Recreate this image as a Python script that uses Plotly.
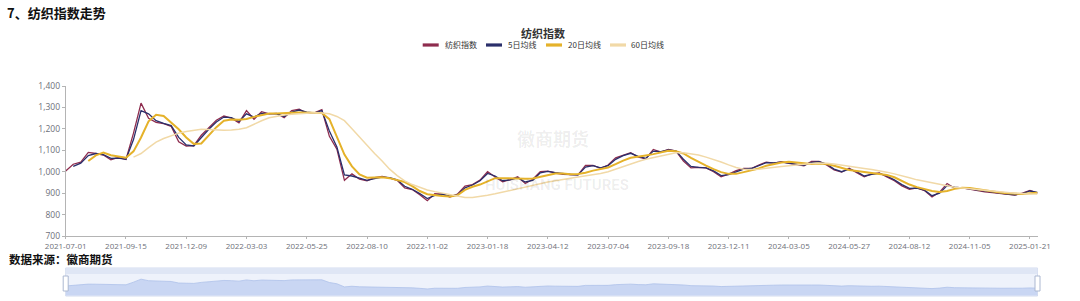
import plotly.graph_objects as go

# ---------------- data ----------------
dates = [
    "2021-07-01", "2021-07-10", "2021-07-20", "2021-07-29", "2021-08-08", "2021-08-17", "2021-08-27", "2021-09-05",
    "2021-09-15", "2021-09-26", "2021-10-06", "2021-10-17", "2021-10-27", "2021-11-07", "2021-11-17", "2021-11-28",
    "2021-12-09", "2021-12-20", "2021-12-30", "2022-01-10", "2022-01-20", "2022-01-31", "2022-02-10", "2022-02-21",
    "2022-03-03", "2022-03-13", "2022-03-24", "2022-04-03", "2022-04-14", "2022-04-24", "2022-05-05", "2022-05-15",
    "2022-05-25", "2022-06-04", "2022-06-13", "2022-06-23", "2022-07-03", "2022-07-12", "2022-07-22", "2022-07-31",
    "2022-08-10", "2022-08-21", "2022-08-31", "2022-09-10", "2022-09-21", "2022-10-01", "2022-10-12", "2022-10-22",
    "2022-11-02", "2022-11-12", "2022-11-21", "2022-12-01", "2022-12-11", "2022-12-20", "2022-12-30", "2023-01-08",
    "2023-01-18", "2023-01-29", "2023-02-08", "2023-02-18", "2023-03-01", "2023-03-12", "2023-03-22", "2023-04-01",
    "2023-04-12", "2023-04-22", "2023-05-03", "2023-05-13", "2023-05-24", "2023-06-03", "2023-06-14", "2023-06-24",
    "2023-07-04", "2023-07-13", "2023-07-23", "2023-08-01", "2023-08-11", "2023-08-20", "2023-08-30", "2023-09-08",
    "2023-09-18", "2023-09-29", "2023-10-09", "2023-10-19", "2023-10-30", "2023-11-09", "2023-11-20", "2023-11-30",
    "2023-12-11", "2023-12-22", "2024-01-01", "2024-01-12", "2024-01-22", "2024-02-02", "2024-02-12", "2024-02-23",
    "2024-03-05", "2024-03-15", "2024-03-26", "2024-04-05", "2024-04-16", "2024-04-26", "2024-05-07", "2024-05-17",
    "2024-05-27", "2024-06-06", "2024-06-15", "2024-06-25", "2024-07-05", "2024-07-14", "2024-07-24", "2024-08-02",
    "2024-08-12", "2024-08-23", "2024-09-02", "2024-09-13", "2024-09-23", "2024-10-04", "2024-10-14", "2024-10-25",
    "2024-11-05", "2024-11-15", "2024-11-24", "2024-12-04", "2024-12-14", "2024-12-23", "2025-01-02", "2025-01-11",
    "2025-01-21", "2025-01-27",
]

tick_labels = [
    "2021-07-01", "2021-09-15", "2021-12-09", "2022-03-03", "2022-05-25", "2022-08-10",
    "2022-11-02", "2023-01-18", "2023-04-12", "2023-07-04", "2023-09-18", "2023-12-11",
    "2024-03-05", "2024-05-27", "2024-08-12", "2024-11-05", "2025-01-21",
]

textile_index = [
    1003, 1035, 1045, 1090, 1085, 1078, 1056, 1067, 1057, 1180,
    1320, 1249, 1230, 1224, 1212, 1140, 1120, 1122, 1170, 1205,
    1240, 1260, 1250, 1228, 1285, 1245, 1280, 1270, 1272, 1252,
    1285, 1292, 1272, 1275, 1290, 1165, 1105, 960, 990, 965,
    958, 972, 978, 970, 960, 924, 917, 893, 865, 898,
    895, 882, 895, 933, 940, 961, 1000, 975, 953, 963,
    976, 945, 965, 1000, 1003, 994, 988, 987, 985, 1030,
    1029, 1016, 1031, 1065, 1078, 1089, 1068, 1060, 1104, 1092,
    1104, 1096, 1050, 1018, 1020, 1018, 1000, 976, 989, 1005,
    1015, 1015, 1031, 1045, 1040, 1047, 1039, 1034, 1028, 1048,
    1048, 1032, 1008, 998, 1016, 996, 976, 990, 994, 976,
    958, 934, 918, 925, 912, 882, 905, 945, 923, 925,
    918, 910, 906, 903, 898, 893, 891, 900, 913, 900,
]

ma5 = [
    None, 1025, 1040, 1075, 1085, 1080, 1062, 1063, 1058, 1150,
    1285, 1270, 1238, 1226, 1215, 1160, 1125, 1120, 1160, 1198,
    1232, 1255, 1252, 1235, 1270, 1255, 1272, 1272, 1270, 1258,
    1278, 1288, 1278, 1274, 1285, 1190, 1115, 985, 980, 970,
    960, 968, 975, 972, 962, 932, 918, 898, 875, 890,
    895, 886, 892, 925, 938, 958, 992, 980, 958, 962,
    972, 952, 960, 995, 1002, 996, 990, 987, 985, 1022,
    1028, 1018, 1028, 1058, 1075, 1086, 1072, 1062, 1096, 1094,
    1102, 1097, 1058, 1025, 1020, 1018, 1004, 982, 986, 1000,
    1012, 1015, 1028, 1042, 1041, 1045, 1040, 1035, 1030, 1044,
    1047, 1036, 1012, 1000, 1012, 1000, 980, 988, 992, 980,
    962, 940, 922, 923, 914, 888, 900, 935, 928, 925,
    920, 912, 907, 904, 899, 895, 892, 898, 910, 903,
]

ma20 = [
    None, None, None, 1050, 1076, 1089, 1077, 1071, 1065, 1095,
    1160, 1235, 1266, 1260, 1230, 1198, 1160, 1130, 1132, 1170,
    1208, 1238, 1244, 1242, 1246, 1256, 1265, 1272, 1272, 1272,
    1275, 1276, 1276, 1276, 1274, 1245, 1165, 1080, 1025, 987,
    972, 974, 974, 970, 962, 952, 933, 910, 895, 890,
    887, 884, 890, 915, 930, 940, 955, 970, 970, 968,
    968, 967, 968, 975, 985, 992, 992, 988, 989, 995,
    1005, 1012, 1020, 1035, 1052, 1065, 1072, 1076, 1082, 1090,
    1098, 1095, 1085, 1065, 1045, 1028, 1012, 998, 990, 990,
    998, 1005, 1015, 1028, 1036, 1043, 1046, 1043, 1040, 1036,
    1038, 1036, 1028, 1018, 1008, 1003, 998, 992, 988, 985,
    974, 958, 940, 928, 918, 910, 905, 910, 920, 925,
    924, 918, 914, 908, 903, 899, 896, 896, 900, 902,
]

ma60 = [
    None, None, None, None, None, None, None, None, None, 1068,
    1085, 1112, 1138, 1155, 1168, 1180, 1188, 1194, 1198, 1197,
    1194, 1194, 1195, 1198, 1205, 1222, 1238, 1252, 1260, 1265,
    1268, 1271, 1273, 1275, 1274, 1270, 1258, 1238, 1200, 1160,
    1120, 1085, 1050, 1012, 982, 957, 940, 928, 915, 907,
    900, 893, 884, 880, 880, 884, 890, 897, 905, 912,
    920, 930, 937, 945, 952, 958, 965, 970, 975, 980,
    985, 992, 1000, 1012, 1025, 1038, 1048, 1058, 1066, 1074,
    1082, 1088, 1088, 1082, 1078, 1068, 1058, 1045, 1032, 1020,
    1012, 1010, 1012, 1015, 1020, 1024, 1028, 1032, 1035, 1038,
    1040, 1040, 1036, 1030, 1025, 1020, 1015, 1010, 1005, 998,
    990, 982, 972, 962, 955, 948, 942, 935, 928, 924,
    920, 916, 914, 910, 906, 903, 900, 897, 896, 896,
]

series_names = ["纺织指数", "5日均线", "20日均线", "60日均线"]
y_ticks = [700, 800, 900, 1000, 1100, 1200, 1300, 1400]

# ---------------- styling ----------------
W, H = 1080, 301
C_IDX = "#8E2C4E"
C_MA5 = "#2A2F6B"
C_MA20 = "#E5B22A"
C_MA60 = "#F1D9A7"
AXIS_C = "#B4B4B4"
LABEL_C = "#6E7079"
FONT = "Open Sans, Noto Sans CJK SC, sans-serif"
CJK = "Noto Sans CJK SC, sans-serif"

def px(x):
    return x / W

def py(y):
    return (H - y) / H

X0, X1 = 65.7, 1037.5
n = len(dates)

fig = go.Figure()
series = [
    (textile_index, C_IDX, 1.3),
    (ma5, C_MA5, 1.3),
    (ma20, C_MA20, 2.0),
    (ma60, C_MA60, 1.5),
]
for (vals, col, w), name in zip(series, series_names):
    fig.add_trace(go.Scatter(
        x=dates, y=vals, name=name, mode="lines",
        line=dict(color=col, width=w),
        xaxis="x", yaxis="y", showlegend=False, hoverinfo="skip",
    ))

# data-zoom slider shadow
fig.add_trace(go.Scatter(
    x=dates, y=textile_index, mode="lines", fill="tozeroy",
    line=dict(color="#AFC1EA", width=0.8), fillcolor="#C9D6F3",
    xaxis="x2", yaxis="y2", showlegend=False, hoverinfo="skip",
))

shapes = []
annotations = []

# slider frame
SL_T, SL_B = 268, 296
shapes.append(dict(type="rect", xref="paper", yref="paper",
                   x0=px(X0), x1=px(X1), y0=py(SL_B), y1=py(SL_T),
                   fillcolor="#EEF2FB", line=dict(color="#D3DBEE", width=1), layer="below"))
shapes.append(dict(type="rect", xref="paper", yref="paper",
                   x0=px(X0), x1=px(X1), y0=py(SL_T + 6), y1=py(SL_T),
                   fillcolor="#DFE6F5", line=dict(width=0), layer="below"))
for hx in (X0, X1):
    shapes.append(dict(type="rect", xref="paper", yref="paper",
                       x0=px(hx - 2.5), x1=px(hx + 2.5), y0=py(291), y1=py(276),
                       fillcolor="#FFFFFF", line=dict(color="#ACB8D1", width=1), layer="above"))

# custom legend
legend_items = [
    (422.7, 443.0, C_IDX, series_names[0]),
    (486.0, 506.0, C_MA5, series_names[1]),
    (546.0, 566.0, C_MA20, series_names[2]),
    (610.0, 629.0, C_MA60, series_names[3]),
]
LEG_Y = 45
for x0, tx, col, name in legend_items:
    shapes.append(dict(type="line", xref="paper", yref="paper",
                       x0=px(x0), x1=px(x0 + 16), y0=py(LEG_Y), y1=py(LEG_Y),
                       line=dict(color=col, width=3.2)))
    annotations.append(dict(text=name, xref="paper", yref="paper", x=px(tx), y=py(LEG_Y),
                            xanchor="left", yanchor="middle", showarrow=False,
                            font=dict(family=CJK, size=8, color="#333333")))

# legend title
annotations.append(dict(text="<b>纺织指数</b>", xref="paper", yref="paper", x=px(543), y=py(33),
                        xanchor="center", yanchor="middle", showarrow=False,
                        font=dict(family=CJK, size=11, color="#333333")))
# page title and source
annotations.append(dict(text="<b>7、纺织指数走势</b>", xref="paper", yref="paper", x=px(5), y=py(12),
                        xanchor="left", yanchor="middle", showarrow=False,
                        font=dict(family=CJK, size=13, color="#111111")))
annotations.append(dict(text="<b>数据来源：徽商期货</b>", xref="paper", yref="paper", x=px(7), y=py(258.5),
                        xanchor="left", yanchor="middle", showarrow=False,
                        font=dict(family=CJK, size=11.5, color="#111111")))
# watermarks
annotations.append(dict(text="<b>徽商期货</b>", xref="paper", yref="paper", x=px(553), y=py(138),
                        xanchor="center", yanchor="middle", showarrow=False,
                        font=dict(family=CJK, size=18, color="rgba(0,0,0,0.07)")))
annotations.append(dict(text="<b>HUISHANG FUTURES</b>", xref="paper", yref="paper", x=px(557), y=py(185),
                        xanchor="center", yanchor="middle", showarrow=False,
                        font=dict(family="Roboto, sans-serif", size=15, color="rgba(0,0,0,0.07)")))

fig.update_layout(
    width=W, height=H,
    margin=dict(l=0, r=0, t=0, b=0, autoexpand=False),
    paper_bgcolor="white", plot_bgcolor="white",
    showlegend=False,
    shapes=shapes, annotations=annotations,
    xaxis=dict(
        type="category", categoryorder="array", categoryarray=dates,
        domain=[px(X0), px(X1)], range=[0, n - 1], anchor="y",
        showline=True, linecolor=AXIS_C, linewidth=1,
        ticks="outside", ticklen=2, tickcolor=AXIS_C,
        tickvals=tick_labels, ticktext=tick_labels,
        tickfont=dict(family=FONT, size=8, color=LABEL_C),
        showgrid=False, zeroline=False, fixedrange=True, automargin=False,
    ),
    yaxis=dict(
        domain=[py(236), py(86)], range=[700, 1400], anchor="x",
        showline=True, linecolor=AXIS_C, linewidth=1,
        ticks="outside", ticklen=3, tickcolor=AXIS_C,
        tickvals=y_ticks, tickformat=",",
        tickfont=dict(family=FONT, size=8.5, color=LABEL_C),
        showgrid=False, zeroline=False, fixedrange=True, automargin=False,
    ),
    xaxis2=dict(
        type="category", categoryorder="array", categoryarray=dates,
        domain=[px(X0), px(X1)], range=[0, n - 1], anchor="y2",
        visible=False, fixedrange=True, automargin=False,
    ),
    yaxis2=dict(
        domain=[py(SL_B - 0.5), py(SL_T + 6)], range=[560, 1560], anchor="x2",
        visible=False, fixedrange=True, automargin=False,
    ),
)

fig.write_html("out.html")
